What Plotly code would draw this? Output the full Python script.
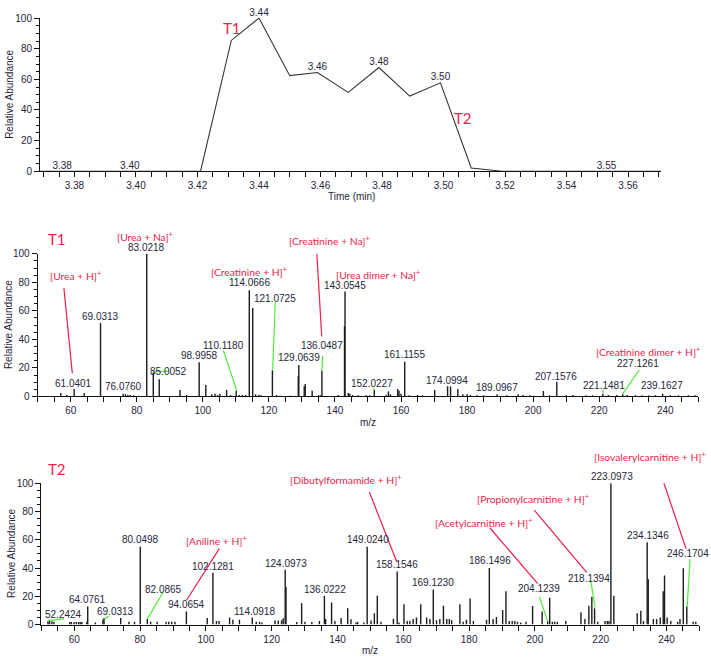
import plotly.graph_objects as go

W, H = 711, 662

# ---------------- Chromatogram ----------------
rt_time = [3.3688, 3.376, 3.398, 3.421, 3.431, 3.440, 3.450, 3.459, 3.469, 3.479, 3.489, 3.499, 3.509, 3.519, 3.553, 3.5707]
rt_abund = [0, 0, 0, 0, 85.4, 100, 62.4, 64.5, 51.5, 67.7, 49.1, 57.7, 2.1, 0, 0, 0]
rt_label = ["", "3.38", "3.40", "", "", "3.44", "", "3.46", "", "3.48", "", "3.50", "", "", "3.55", ""]

# ---------------- T1 spectrum ----------------
t1_mz = [57.0, 58.8, 61.04, 64.1, 69.03, 75.9, 76.6, 77.3, 78.0, 79.0, 83.02, 85.0, 86.8, 93.1, 95.1,
         98.9, 100.9, 102.7, 103.7, 104.5, 105.2, 107.2, 108.4, 110.1, 111.0, 112.0, 113.0, 114.07, 115.1,
         116.0, 117.0, 117.6, 121.07, 122.3, 123.5, 126.5, 128.9, 129.06, 130.7, 131.0, 133.1, 135.0, 135.6,
         136.05, 141.0, 142.9, 143.05, 144.05, 144.5, 145.3, 147.0, 149.5, 150.5, 151.9, 155.5, 156.2, 156.8,
         159.0, 159.4, 160.0, 161.12, 162.5, 165.0, 166.5, 170.2, 174.1, 175.0, 177.2, 178.7, 180.0, 181.0,
         183.0, 185.0, 189.1, 192.0, 195.5, 196.9, 199.0, 203.1, 205.0, 207.16, 210.0, 212.0, 216.0, 218.0,
         221.1, 222.8, 225.3, 227.1, 228.5, 231.0, 233.0, 235.0, 237.0, 239.2, 241.5, 244.0, 247.0, 249.0]
t1_int = [2.5, 1, 5.3, 2.5, 51.4, 1.9, 1.5, 1, 1, 0.8, 100, 17, 12, 4.6, 1,
          24, 8, 1.5, 2, 1, 2, 4.6, 1, 4, 1, 1, 1, 74.5, 62,
          1.5, 1.2, 0.8, 18.4, 1, 0.6, 0.6, 14.5, 22, 7.1, 8.7, 4.1, 0.8, 0.8,
          18, 1, 49, 73.5, 2.5, 2, 1, 0.8, 0.8, 0.8, 4.5, 1, 3.5, 1.5,
          5.3, 4, 2, 24.3, 0.8, 1, 0.8, 4.6, 7.1, 7, 5.3, 1.5, 1.5, 1,
          0.8, 0.8, 1.5, 0.8, 1.5, 1, 0.8, 3.9, 0.8, 10.3, 0.8, 1, 0.8, 0.8,
          2, 1, 1, 1.5, 1, 0.8, 0.8, 0.8, 0.8, 2, 0.8, 0.8, 0.8, 0.8]

t1_lab_text = ["61.0401", "69.0313", "76.0760", "83.0218", "85.0052", "98.9958", "110.1180", "114.0666",
               "121.0725", "129.0639", "136.0487", "143.0545", "152.0227", "161.1155", "174.0994",
               "189.0967", "207.1576", "221.1481", "227.1261", "239.1627"]
t1_lab_x = [60.7, 68.87, 75.93, 83.0, 89.55, 98.84, 106.2, 114.07, 121.85, 129.12, 136.0, 143.05, 151.13,
            161.0, 174.0, 188.97, 206.8, 221.46, 231.8, 238.93]
t1_lab_y = [9.2, 55.7, 6.9, 104.3, 17.5, 28.9, 35.8, 79.6, 68.8, 27.5, 35.8, 78.0, 9.4, 29.4, 11.0, 6.2,
            13.8, 7.4, 23.2, 7.4]

t1_cmp_text = ["[Urea + H]<sup>+</sup>", "[Urea + Na]<sup>+</sup>", "[Creatinine + H]<sup>+</sup>",
               "[Creatinine + Na]<sup>+</sup>", "[Urea dimer + Na]<sup>+</sup>",
               "[Creatinine dimer + H]<sup>+</sup>"]
t1_cmp_x = [61.3, 82.5, 114.07, 138.4, 153.0, 234.87]
t1_cmp_y = [84.4, 112.4, 87.8, 109.6, 85.1, 31.6]

# leader lines (x0, y0, x1, y1)
t1_red_lines = [(57.94, 75.9, 60.48, 16.3), (134.48, 101.6, 136.0, 42.0)]
t1_green_lines = [(85.0, 17.0, 89.6, 17.8), (106.2, 32.3, 110.26, 4.1), (121.94, 66.0, 121.15, 19.0),
                  (136.29, 28.7, 136.08, 18.0), (151.6, 6.0, 151.9, 4.6), (221.2, 4.6, 221.1, 2.5),
                  (232.1, 18.5, 227.1, 1.8)]

# ---------------- T2 spectrum ----------------
t2_mz = [52.0, 52.5, 53.2, 53.8, 58.6, 59.1, 59.9, 60.6, 61.3, 61.8, 62.3, 63.8, 64.08, 66.4, 68.7, 69.03,
         74.1, 76.6, 78.3, 80.05, 82.2, 83.2, 85.2, 87.9, 88.7, 89.6, 90.6, 94.07, 100.4, 102.13, 103.2,
         104.0, 107.2, 108.2, 110.2, 114.09, 115.3, 116.3, 117.0, 121.0, 122.0, 123.0, 123.5, 124.1, 124.35,
         127.6, 129.1, 130.1, 132.2, 134.5, 136.02, 136.4, 138.2, 139.2, 141.1, 143.1, 144.1, 145.6, 146.1,
         148.0, 149.02, 150.2, 151.2, 152.1, 153.2, 157.0, 158.15, 158.7, 160.2, 161.2, 162.0, 163.0, 164.0,
         165.3, 167.1, 168.1, 169.12, 170.1, 171.1, 172.2, 173.2, 174.0, 174.7, 177.2, 178.2, 179.2, 180.3,
         181.3, 185.3, 186.15, 187.3, 188.3, 190.2, 191.2, 192.2, 193.1, 193.9, 194.7, 195.7, 197.3, 199.3,
         202.2, 203.9, 204.5, 205.3, 206.0, 206.8, 209.4, 214.0, 215.2, 216.4, 217.3, 218.14, 219.1, 221.3,
         222.0, 222.5, 223.1, 224.0, 231.1, 232.2, 233.0, 234.13, 234.45, 236.0, 237.0, 238.1, 239.0, 239.4,
         240.2, 241.3, 243.4, 244.1, 245.1, 246.17, 248.1, 248.9]
t2_int = [2.3, 3.2, 2.3, 2, 1.8, 1.8, 1.8, 1.8, 1.8, 1.8, 1.8, 2, 12.7, 1.5, 3.5, 4.6,
          4.6, 2, 2, 55, 3.9, 2, 2, 2, 2, 2, 2, 9.3, 4.6, 36.6, 2.5,
          2.5, 5, 3.5, 3.5, 5, 2, 2, 1.5, 2.8, 2.8, 3, 4.5, 38.7, 26.6,
          1.8, 15, 2, 1.8, 2.5, 20.4, 4, 15.7, 2.5, 4.6, 11.6, 3.7, 1.5, 2,
          1.5, 55, 2.8, 8, 20.4, 2, 4.2, 37.5, 1.5, 14.4, 2.5, 2.5, 4, 5,
          14.4, 5, 4, 24.8, 3, 4, 13.4, 4, 4, 3, 14.4, 2, 3.5, 18.5,
          2.5, 3.5, 40, 4, 5.3, 10.4, 23.6, 2.5, 2.5, 2.5, 2, 1.5, 2, 13.2,
          9.3, 2.3, 19, 2, 2, 2, 2.5, 8.8, 4, 13.4, 19.7, 11.6, 2, 2.5,
          2.5, 2.5, 100, 20.4, 8.1, 9.7, 2.5, 58.3, 32, 4, 4, 5, 23.6, 34.7,
          5, 2.5, 2, 4, 39.8, 12.7, 2, 2]

t2_lab_text = ["52.2424", "64.0761", "69.0313", "80.0498", "82.0865", "94.0654", "102.1281", "114.0918",
               "124.0973", "136.0222", "149.0240", "158.1546", "169.1230", "186.1496", "204.1239",
               "218.1394", "223.0973", "234.1346", "246.1704"]
t2_lab_x = [56.8, 64.16, 72.46, 80.06, 86.96, 94.04, 102.16, 114.62, 124.35, 136.2, 149.18, 158.18, 169.1,
            186.35, 201.25, 216.44, 223.34, 234.29, 246.63]
t2_lab_y = [6.9, 17.4, 9.2, 60.2, 25.0, 14.4, 41.2, 9.2, 43.3, 25.0, 60.2, 42.2, 29.7, 45.1, 25.5, 32.4,
            104.9, 63.2, 50.5]

t2_cmp_text = ["[Aniline + H]<sup>+</sup>", "[Dibutylformamide + H]<sup>+</sup>",
               "[Acetylcarnitine + H]<sup>+</sup>", "[Propionylcarnitine + H]<sup>+</sup>",
               "[Isovalerylcarnitine + H]<sup>+</sup>"]
t2_cmp_x = [103.28, 142.58, 184.3, 199.5, 235.0]
t2_cmp_y = [59.5, 102.3, 72.4, 89.1, 118.75]

t2_red_lines = [(104.07, 53.7, 94.16, 17.4), (149.67, 93.75, 158.0, 44.4), (186.35, 68.3, 200.85, 29.0),
                (199.8, 81.0, 215.74, 37.0), (237.5, 111.8, 245.93, 53.7)]
t2_green_lines = [(52.0, 2.8, 56.87, 4.0), (69.24, 4.2, 70.46, 5.8), (86.96, 22.7, 82.19, 4.0),
                  (201.34, 19.7, 203.9, 2.3), (217.05, 30.0, 218.3, 12.0), (247.14, 46.3, 246.3, 12.7)]

# ---------------- styling constants ----------------
RED = "#ee1d4b"
GREEN = "#4ded3a"
TXT = "#26263a"
STICK = "#1c1c1c"
NUMFONT = "Liberation Sans"
LABFONT = "Lato"

DOM1 = [1 - 168.3 / H, 1 - 12.3 / H]
DOM2 = [1 - 397.7 / H, 1 - 252.3 / H]
DOM3 = [1 - 630 / H, 1 - 486 / H]

fig = go.Figure()


def sticks(mz, inten):
    xs, ys = [], []
    for m, v in zip(mz, inten):
        xs += [m, m, None]
        ys += [0, v, None]
    return xs, ys


def segs(lines):
    xs, ys = [], []
    for x0, y0, x1, y1 in lines:
        xs += [x0, x1, None]
        ys += [y0, y1, None]
    return xs, ys


fig.add_trace(go.Scatter(x=rt_time, y=rt_abund, mode="lines+text", text=rt_label,
                         textposition="top center", textfont=dict(family=NUMFONT, size=10, color=TXT),
                         line=dict(color="#333333", width=1.1), xaxis="x", yaxis="y",
                         cliponaxis=False, hoverinfo="skip"))

for (mz, inten, ax, reds, greens) in [(t1_mz, t1_int, ("x2", "y2"), t1_red_lines, t1_green_lines),
                                       (t2_mz, t2_int, ("x3", "y3"), t2_red_lines, t2_green_lines)]:
    xs, ys = sticks(mz, inten)
    fig.add_trace(go.Scatter(x=xs, y=ys, mode="lines", line=dict(color=STICK, width=1.4),
                             xaxis=ax[0], yaxis=ax[1], cliponaxis=False, hoverinfo="skip"))
    xs, ys = segs(reds)
    fig.add_trace(go.Scatter(x=xs, y=ys, mode="lines", line=dict(color=RED, width=1.2),
                             xaxis=ax[0], yaxis=ax[1], cliponaxis=False, hoverinfo="skip"))
    xs, ys = segs(greens)
    fig.add_trace(go.Scatter(x=xs, y=ys, mode="lines", line=dict(color=GREEN, width=1.2),
                             xaxis=ax[0], yaxis=ax[1], cliponaxis=False, hoverinfo="skip"))

annotations = []


def add_text(text, x, y, xref, size=10, color=TXT, family=NUMFONT, angle=0):
    annotations.append(dict(text=text, x=x, y=y, xref=xref, yref="paper", showarrow=False,
                            xanchor="center", yanchor="middle", textangle=angle,
                            font=dict(family=family, size=size, color=color)))


def vy(v, dom):
    return dom[0] + v / 100.0 * (dom[1] - dom[0])


for t, x, y in zip(t1_lab_text, t1_lab_x, t1_lab_y):
    add_text(t, x, vy(y, DOM2), "x2")
for t, x, y in zip(t1_cmp_text, t1_cmp_x, t1_cmp_y):
    add_text(t, x, vy(y, DOM2), "x2", size=10.3, color=RED, family=LABFONT)
for t, x, y in zip(t2_lab_text, t2_lab_x, t2_lab_y):
    add_text(t, x, vy(y, DOM3), "x3")
for t, x, y in zip(t2_cmp_text, t2_cmp_x, t2_cmp_y):
    add_text(t, x, vy(y, DOM3), "x3", size=10.3, color=RED, family=LABFONT)

for text, xp, yp, size, color, fam, ang in [
    ("T1", 232, 22, 15, RED, LABFONT, 0),
    ("T2", 463, 114, 15, RED, LABFONT, 0),
    ("T1", 56.7, 237.7, 15, RED, LABFONT, 0),
    ("T2", 56.7, 471.7, 15, RED, LABFONT, 0),
    ("Relative Abundance", 9.5, 90, 10, TXT, NUMFONT, -90),
    ("Relative Abundance", 8, 325, 10, TXT, NUMFONT, -90),
    ("Relative Abundance", 12, 558, 10, TXT, NUMFONT, -90),
    ("Time (min)", 351, 194, 10, TXT, NUMFONT, 0),
    ("m/z", 368, 424, 10, TXT, NUMFONT, 0),
    ("m/z", 370, 656, 10, TXT, NUMFONT, 0),
]:
    add_text(text, xp / W, 1 - yp / H, "paper", size=size, color=color, family=fam, angle=ang)

axis_common = dict(showline=True, linecolor="#111111", linewidth=1, ticks="outside", ticklen=5,
                   tickcolor="#111111", showgrid=False, zeroline=False,
                   tickfont=dict(family=NUMFONT, size=10, color=TXT), fixedrange=True)
minor_x = dict(ticklen=5, ticks="outside", tickcolor="#111111")
minor_y = dict(dtick=5, ticklen=3, ticks="outside", tickcolor="#111111")

fig.update_layout(
    width=W, height=H, margin=dict(l=0, r=0, t=0, b=0), autosize=False,
    paper_bgcolor="white", plot_bgcolor="white", showlegend=False,
    annotations=annotations,
    xaxis=dict(domain=[40 / W, 661 / W], range=[3.3688, 3.5707], anchor="y", tickmode="linear",
               tick0=3.38, dtick=0.02, tickformat=".2f", minor=dict(dtick=0.005, tick0=3.38, **minor_x),
               **axis_common),
    yaxis=dict(domain=DOM1, range=[0, 100], anchor="x", tickmode="linear", tick0=0, dtick=20,
               minor=minor_y, **axis_common),
    xaxis2=dict(domain=[37.67 / W, 698.3 / W], range=[50, 250], anchor="y2", tickmode="linear",
                tick0=0, dtick=20, minor=dict(dtick=5, **minor_x), **axis_common),
    yaxis2=dict(domain=DOM2, range=[0, 100], anchor="x2", tickmode="linear", tick0=0, dtick=20,
                minor=minor_y, **axis_common),
    xaxis3=dict(domain=[41.4 / W, 699.4 / W], range=[50, 250], anchor="y3", tickmode="linear",
                tick0=0, dtick=20, minor=dict(dtick=5, **minor_x), **axis_common),
    yaxis3=dict(domain=DOM3, range=[0, 100], anchor="x3", tickmode="linear", tick0=0, dtick=20,
                minor=minor_y, **axis_common),
)

fig.write_html("out.html", config={"displayModeBar": False},
               post_script="document.body.style.margin='0';")
